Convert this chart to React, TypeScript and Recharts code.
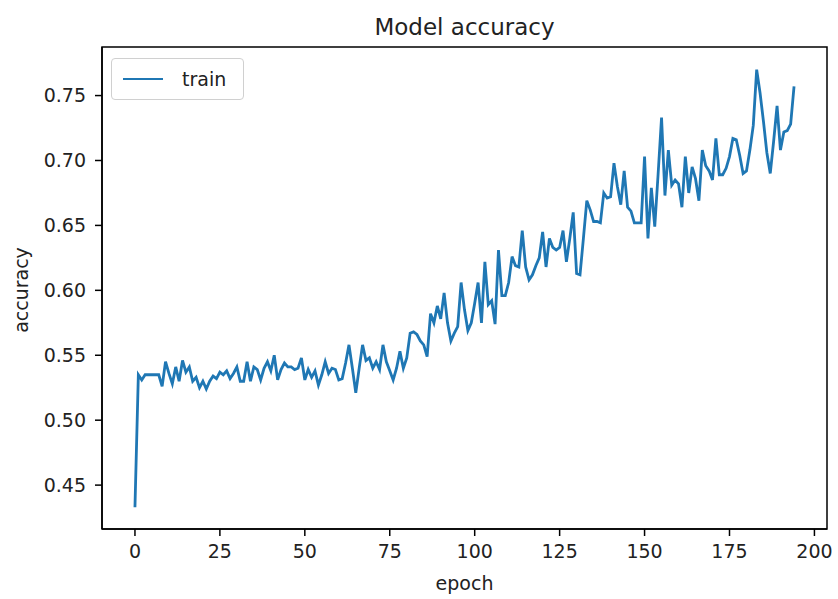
import React from 'react';
import { LineChart, Line, XAxis, YAxis, ReferenceArea } from 'recharts';

const epochs: number[] = Array.from({ length: 195 }, (_, i) => i);

const trainAccuracy: number[] = [
  0.433, 0.535, 0.531, 0.535, 0.535, 0.535, 0.535, 0.535, 0.526, 0.545,
  0.536, 0.528, 0.541, 0.530, 0.546, 0.537, 0.541, 0.530, 0.533, 0.525,
  0.530, 0.524, 0.530, 0.534, 0.532, 0.537, 0.535, 0.538, 0.532, 0.536,
  0.541, 0.530, 0.530, 0.545, 0.530, 0.541, 0.539, 0.531, 0.540, 0.545,
  0.538, 0.550, 0.531, 0.539, 0.544, 0.541, 0.541, 0.539, 0.540, 0.548,
  0.531, 0.539, 0.533, 0.538, 0.527, 0.535, 0.545, 0.536, 0.540, 0.539,
  0.531, 0.532, 0.544, 0.558, 0.540, 0.521, 0.540, 0.558, 0.546, 0.548,
  0.540, 0.545, 0.539, 0.558, 0.545, 0.538, 0.531, 0.540, 0.553, 0.540,
  0.548, 0.567, 0.568, 0.566, 0.561, 0.558, 0.549, 0.582, 0.575, 0.588,
  0.578, 0.598, 0.575, 0.561, 0.567, 0.572, 0.606, 0.585, 0.569, 0.575,
  0.590, 0.606, 0.575, 0.622, 0.589, 0.592, 0.574, 0.631, 0.596, 0.596,
  0.606, 0.626, 0.619, 0.618, 0.646, 0.618, 0.608, 0.612, 0.619, 0.625,
  0.645, 0.618, 0.640, 0.633, 0.631, 0.633, 0.646, 0.622, 0.640, 0.660,
  0.613, 0.612, 0.640, 0.669, 0.662, 0.653, 0.653, 0.652, 0.675, 0.671,
  0.672, 0.698, 0.680, 0.666, 0.692, 0.664, 0.661, 0.652, 0.652, 0.652,
  0.703, 0.640, 0.679, 0.649, 0.690, 0.733, 0.673, 0.708, 0.681, 0.685,
  0.682, 0.664, 0.703, 0.675, 0.695, 0.686, 0.669, 0.708, 0.696, 0.692,
  0.685, 0.717, 0.689, 0.689, 0.694, 0.703, 0.717, 0.716, 0.704, 0.690,
  0.692, 0.708, 0.727, 0.770, 0.752, 0.730, 0.706, 0.690, 0.715, 0.742,
  0.708, 0.722, 0.723, 0.728, 0.757,
];

const xTicks: number[] = [0, 25, 50, 75, 100, 125, 150, 175, 200];
const yTicks: number[] = [0.45, 0.5, 0.55, 0.6, 0.65, 0.7, 0.75];

const title = 'Model accuracy';
const xLabel = 'epoch';
const yLabel = 'accuracy';
const seriesName = 'train';

const data = epochs.map((e, i) => ({ epoch: e, train: trainAccuracy[i] }));

const X_DOMAIN: [number, number] = [-9.7, 203.7];
const Y_DOMAIN: [number, number] = [0.4162, 0.7874];

const FONT = '"DejaVu Sans", sans-serif';
const TEXT = '#222';
const LINE = '#1f77b4';

export default function App() {
  return (
    <div style={{ position: 'absolute', left: 0, top: 0, width: 838, height: 599, background: '#fff', fontFamily: FONT }}>
      <LineChart
        width={838}
        height={599}
        data={data}
        margin={{ top: 47, right: 11, left: 22, bottom: 20 }}
      >
        <XAxis
          dataKey="epoch"
          type="number"
          domain={X_DOMAIN}
          ticks={xTicks}
          allowDataOverflow
          height={50}
          tickSize={7}
          tickMargin={9}
          stroke="#000"
          axisLine={{ stroke: '#000', strokeWidth: 1.5 }}
          tickLine={{ stroke: '#000', strokeWidth: 1.5 }}
          tick={{ fontFamily: FONT, fontSize: 19, fill: TEXT }}
        />
        <YAxis
          type="number"
          domain={Y_DOMAIN}
          ticks={yTicks}
          allowDataOverflow
          width={80}
          tickSize={7}
          tickMargin={9}
          stroke="#000"
          axisLine={{ stroke: '#000', strokeWidth: 1.5 }}
          tickLine={{ stroke: '#000', strokeWidth: 1.5 }}
          tick={{ fontFamily: FONT, fontSize: 19, fill: TEXT }}
          tickFormatter={(v: number) => v.toFixed(2)}
        />
        <ReferenceArea
          x1={X_DOMAIN[0]}
          x2={X_DOMAIN[1]}
          y1={Y_DOMAIN[0]}
          y2={Y_DOMAIN[1]}
          fill="none"
          stroke="#000"
          strokeWidth={1.5}
          ifOverflow="extendDomain"
        />
        <Line
          dataKey="train"
          type="linear"
          stroke={LINE}
          strokeWidth={2.8}
          dot={false}
          isAnimationActive={false}
        />
      </LineChart>

      <div style={{ position: 'absolute', left: 102, width: 725, top: 14, textAlign: 'center', fontSize: 23, color: TEXT, pointerEvents: 'none' }}>
        {title}
      </div>
      <div style={{ position: 'absolute', left: 102, width: 725, top: 572, textAlign: 'center', fontSize: 19, color: TEXT, pointerEvents: 'none' }}>
        {xLabel}
      </div>
      <div style={{ position: 'absolute', left: 21, top: 290, width: 0, height: 0, pointerEvents: 'none' }}>
        <div style={{ position: 'absolute', transform: 'translate(-50%, -50%) rotate(-90deg)', fontSize: 19, color: TEXT, whiteSpace: 'nowrap' }}>
          {yLabel}
        </div>
      </div>
      <div style={{ position: 'absolute', left: 111, top: 58, width: 133, height: 42, boxSizing: 'border-box', border: '1px solid #d0d0d0', borderRadius: 4, background: 'rgba(255,255,255,0.8)', display: 'flex', alignItems: 'center', pointerEvents: 'none' }}>
        <div style={{ width: 40, height: 0, borderTop: `2.8px solid ${LINE}`, marginLeft: 11 }} />
        <div style={{ marginLeft: 19, fontSize: 19, color: TEXT }}>{seriesName}</div>
      </div>
    </div>
  );
}
